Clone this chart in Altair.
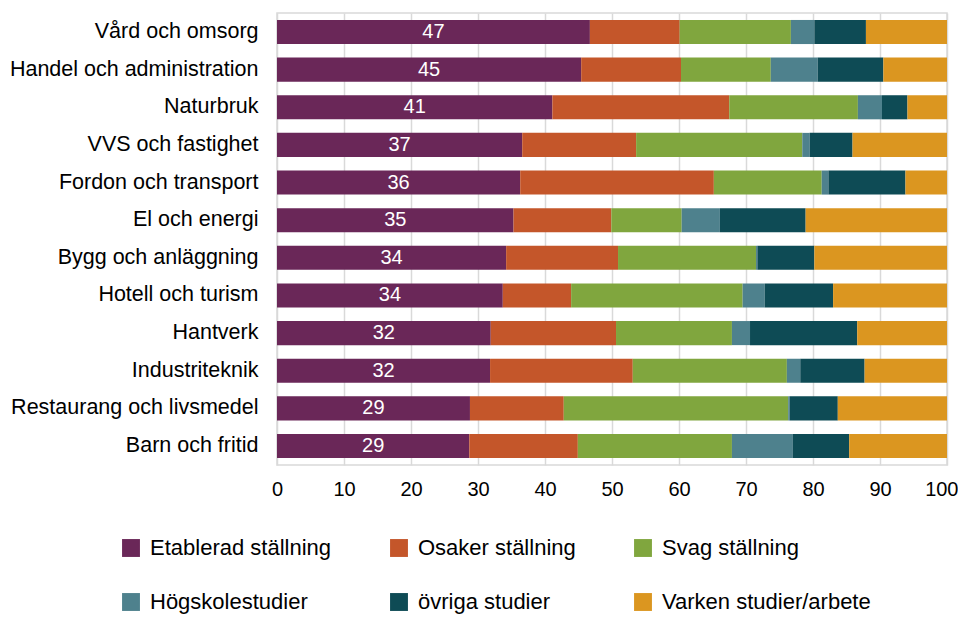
import altair as alt
import pandas as pd

categories = ["Vård och omsorg", "Handel och administration", "Naturbruk",
              "VVS och fastighet", "Fordon och transport", "El och energi",
              "Bygg och anläggning", "Hotell och turism", "Hantverk",
              "Industriteknik", "Restaurang och livsmedel", "Barn och fritid"]

series = ["Etablerad ställning", "Osaker ställning", "Svag ställning",
          "Högskolestudier", "övriga studier", "Varken studier/arbete"]

etablerad = [46.7, 45.4, 41.1, 36.6, 36.3, 35.3, 34.2, 33.7, 31.9, 31.8, 28.8, 28.7]
osaker    = [13.4, 14.9, 26.4, 17.0, 28.9, 14.6, 16.7, 10.2, 18.7, 21.3, 14.0, 16.2]
svag      = [16.6, 13.4, 19.2, 24.8, 16.1, 10.5, 20.6, 25.6, 17.3, 23.0, 33.5, 23.0]
hogskole  = [3.5, 7.0, 3.6, 1.1, 1.0, 5.7, 0.2, 3.3, 2.7, 2.0, 0.2, 9.1]
ovriga    = [7.7, 9.8, 3.8, 6.4, 11.5, 12.8, 8.5, 10.2, 16.0, 9.6, 7.2, 8.4]
varken    = [12.1, 9.5, 5.9, 14.1, 6.2, 21.1, 19.8, 17.0, 13.4, 12.3, 16.3, 14.6]

colors = ["#6A2758", "#C4562A", "#80A63E", "#4E818D", "#0E4B55", "#DB9620"]

all_values = [etablerad, osaker, svag, hogskole, ovriga, varken]
rows = []
for i, cat in enumerate(categories):
    for j, s in enumerate(series):
        rows.append({"cat": cat, "series": s, "value": all_values[j][i], "ord": j})
df = pd.DataFrame(rows)

FONT = "Liberation Sans"

base = alt.Chart(df)

bars = base.mark_bar().encode(
    y=alt.Y("cat:N", sort=categories, title=None,
            scale=alt.Scale(paddingInner=0.36, paddingOuter=0.185),
            axis=alt.Axis(ticks=False, domain=False, labelFontSize=21.5,
                          labelFont=FONT, labelColor="#000000", labelPadding=19,
                          labelLimit=400)),
    x=alt.X("value:Q", stack="zero", title=None,
            scale=alt.Scale(domain=[0, 100], nice=False),
            axis=alt.Axis(values=list(range(0, 101, 10)), ticks=False, domain=False,
                          grid=True, gridColor="#D9D9D9", gridWidth=1.5,
                          labelFlush=False, labelFontSize=20, labelFont=FONT,
                          labelColor="#000000", labelPadding=14,
                          labelAlign=alt.ExprRef("datum.value == 100 ? 'right' : 'center'"),
                          labelOffset=alt.ExprRef("datum.value == 100 ? 11 : 0"))),
    color=alt.Color("series:N", scale=alt.Scale(domain=series, range=colors),
                    legend=alt.Legend(title=None, orient="none", legendX=-157, legendY=524,
                                      direction="horizontal",
                                      columns=3, gridAlign="each", columnPadding=56,
                                      rowPadding=32, symbolType="square", symbolSize=320,
                                      symbolStrokeWidth=0, labelFontSize=22, labelFont=FONT,
                                      labelColor="#000000", labelOffset=8, labelLimit=400)),
    order=alt.Order("ord:Q"),
)

labels = base.transform_filter(
    alt.datum.ord == 0
).transform_calculate(
    mid="datum.value / 2", lbl="round(datum.value)"
).mark_text(color="white", fontSize=20, font=FONT, baseline="middle").encode(
    y=alt.Y("cat:N", sort=categories),
    x=alt.X("mid:Q"),
    text=alt.Text("lbl:Q"),
)

chart = alt.layer(bars, labels).properties(
    width=670, height=452,
    autosize=alt.AutoSizeParams(type="none"),
    padding={"left": 269, "top": 5, "right": 11, "bottom": 152},
).configure_view(stroke="#D9D9D9", strokeWidth=1.5)

chart.save("out.html", embed_options={"renderer": "svg", "actions": False})
